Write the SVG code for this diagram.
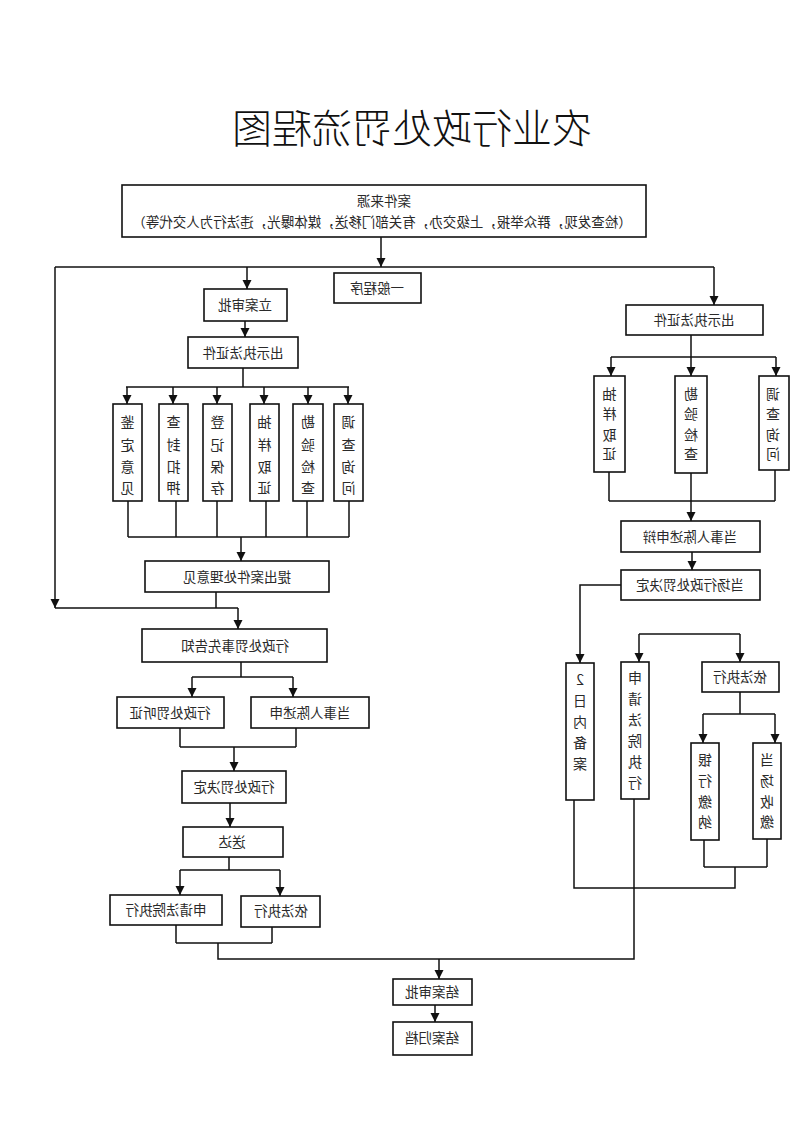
<svg xmlns="http://www.w3.org/2000/svg" width="793" height="1122" viewBox="0 0 793 1122">
<defs>
<style>
.b{fill:#fff;stroke:#111;stroke-width:1.6}
.c{fill:none;stroke:#111;stroke-width:1.5}
.a{marker-end:url(#ah)}
.t{font-family:"Noto Sans CJK SC","Noto Sans",sans-serif;font-size:13.5px;fill:#2a2a2a;text-anchor:middle}
.v{font-family:"Noto Sans CJK SC","Noto Sans",sans-serif;font-size:14px;fill:#2a2a2a;text-anchor:middle}
.h{font-family:"Noto Sans CJK SC","Noto Sans",sans-serif;font-size:40px;font-weight:300;fill:#111;text-anchor:middle}
</style>
<marker id="ah" viewBox="0 0 10 10" refX="10" refY="5" markerWidth="9" markerHeight="10" markerUnits="userSpaceOnUse" orient="auto"><path d="M0,0 L10,5 L0,10 z" fill="#111"/></marker>
</defs>
<rect width="793" height="1122" fill="#fff"/>
<text class="h" transform="scale(-1,1)" x="-412" y="143">农业行政处罚流程图</text>

<g id="connectors">
<path class="c a" d="M381,237 V267"/>
<path class="c" d="M55,267 H714"/>
<path class="c a" d="M55,267 V608"/>
<path class="c a" d="M247,267 V289"/>
<path class="c a" d="M245,321 V337"/>
<path class="c" d="M243,368 V387 M126,387 H349"/>
<path class="c a" d="M127,387 V404"/>
<path class="c a" d="M173,387 V404"/>
<path class="c a" d="M217,387 V404"/>
<path class="c a" d="M264,387 V404"/>
<path class="c a" d="M308,387 V404"/>
<path class="c a" d="M348,387 V404"/>
<path class="c" d="M128,501 V537 M176,501 V537 M217,501 V537 M266,501 V537 M307,501 V537 M349,501 V537 M128,537 H349"/>
<path class="c a" d="M241,537 V561"/>
<path class="c" d="M216,592 V608 M55,608 H238"/>
<path class="c a" d="M238,608 V629"/>
<path class="c" d="M241,662 V677 M192,677 H293"/>
<path class="c a" d="M192,677 V697"/>
<path class="c a" d="M293,677 V697"/>
<path class="c" d="M180,728 V747 M296,728 V747 M180,747 H296"/>
<path class="c a" d="M234,747 V771"/>
<path class="c a" d="M230,803 V827"/>
<path class="c" d="M229,857 V870 M180,870 H280"/>
<path class="c a" d="M180,870 V895"/>
<path class="c a" d="M280,870 V896"/>
<path class="c" d="M176,925 V943 M272,927 V943 M176,943 H272 M218,943 V959 H634 V799"/>
<path class="c a" d="M439,959 V979"/>
<path class="c a" d="M435,1005 V1022"/>
<path class="c a" d="M714,267 V305"/>
<path class="c" d="M691,335 V357 M611,357 H776"/>
<path class="c a" d="M611,357 V376"/>
<path class="c a" d="M691,357 V376"/>
<path class="c a" d="M776,357 V376"/>
<path class="c" d="M609,472 V501 M775,470 V501 M609,501 H775"/>
<path class="c a" d="M691,473 V521"/>
<path class="c a" d="M692,552 V570"/>
<path class="c a" d="M621,585 H580 V663"/>
<path class="c" d="M639,634 H740"/>
<path class="c a" d="M639,634 V662"/>
<path class="c a" d="M740,634 V662"/>
<path class="c" d="M740,692 V714 M703,714 H775"/>
<path class="c a" d="M703,714 V743"/>
<path class="c a" d="M775,714 V743"/>
<path class="c" d="M704,840 V867 M767,839 V867 M704,867 H767 M735,867 V888 H574 V800"/>
</g>

<g id="n-source"><rect class="b" x="122" y="185" width="524" height="52"/>
<text class="t" transform="scale(-1,1)" x="-384" y="206">案件来源</text>
<text class="t" transform="scale(-1,1)" x="-382" y="227">（检查发现，群众举报，上级交办，有关部门移送，媒体曝光，违法行为人交代等）</text></g>
<g id="n-general"><rect class="b" x="334" y="273" width="87" height="30"/><text class="t" transform="scale(-1,1)" x="-377" y="293">一般程序</text></g>
<g id="n-lian"><rect class="b" x="204" y="289" width="83" height="32"/><text class="t" transform="scale(-1,1)" x="-245" y="310">立案审批</text></g>
<g id="n-cert-l"><rect class="b" x="188" y="337" width="110" height="31"/><text class="t" transform="scale(-1,1)" x="-243" y="358">出示执法证件</text></g>
<g id="n-l1"><rect class="b" x="113" y="404" width="29" height="97"/><text class="v" transform="scale(-1,1)"><tspan x="-127.5" y="427">鉴</tspan><tspan x="-127.5" y="450">定</tspan><tspan x="-127.5" y="472">意</tspan><tspan x="-127.5" y="493">见</tspan></text></g>
<g id="n-l2"><rect class="b" x="159" y="404" width="29" height="97"/><text class="v" transform="scale(-1,1)"><tspan x="-173.5" y="427">查</tspan><tspan x="-173.5" y="450">封</tspan><tspan x="-173.5" y="472">扣</tspan><tspan x="-173.5" y="493">押</tspan></text></g>
<g id="n-l3"><rect class="b" x="203" y="404" width="29" height="97"/><text class="v" transform="scale(-1,1)"><tspan x="-217.5" y="427">登</tspan><tspan x="-217.5" y="450">记</tspan><tspan x="-217.5" y="472">保</tspan><tspan x="-217.5" y="493">存</tspan></text></g>
<g id="n-l4"><rect class="b" x="250" y="404" width="29" height="97"/><text class="v" transform="scale(-1,1)"><tspan x="-264.5" y="427">抽</tspan><tspan x="-264.5" y="450">样</tspan><tspan x="-264.5" y="472">取</tspan><tspan x="-264.5" y="493">证</tspan></text></g>
<g id="n-l5"><rect class="b" x="293" y="404" width="30" height="97"/><text class="v" transform="scale(-1,1)"><tspan x="-308" y="427">勘</tspan><tspan x="-308" y="450">验</tspan><tspan x="-308" y="472">检</tspan><tspan x="-308" y="493">查</tspan></text></g>
<g id="n-l6"><rect class="b" x="334" y="404" width="29" height="97"/><text class="v" transform="scale(-1,1)"><tspan x="-348.5" y="427">调</tspan><tspan x="-348.5" y="450">查</tspan><tspan x="-348.5" y="472">询</tspan><tspan x="-348.5" y="493">问</tspan></text></g>
<g id="n-opinion"><rect class="b" x="145" y="561" width="184" height="31"/><text class="t" transform="scale(-1,1)" x="-237" y="582">提出案件处理意见</text></g>
<g id="n-notice"><rect class="b" x="142" y="629" width="185" height="33"/><text class="t" transform="scale(-1,1)" x="-235" y="651">行政处罚事先告知</text></g>
<g id="n-hearing"><rect class="b" x="117" y="697" width="107" height="31"/><text class="t" transform="scale(-1,1)" x="-170" y="718">行政处罚听证</text></g>
<g id="n-plead-l"><rect class="b" x="251" y="697" width="118" height="31"/><text class="t" transform="scale(-1,1)" x="-310" y="718">当事人陈述申</text></g>
<g id="n-decision"><rect class="b" x="182" y="771" width="104" height="32"/><text class="t" transform="scale(-1,1)" x="-234" y="792">行政处罚决定</text></g>
<g id="n-deliver"><rect class="b" x="183" y="827" width="100" height="30"/><text class="t" transform="scale(-1,1)" x="-232" y="847">送达</text></g>
<g id="n-court-l"><rect class="b" x="110" y="895" width="112" height="30"/><text class="t" transform="scale(-1,1)" x="-166" y="915">申请法院执行</text></g>
<g id="n-exec-l"><rect class="b" x="241" y="896" width="79" height="31"/><text class="t" transform="scale(-1,1)" x="-281" y="916">依法执行</text></g>
<g id="n-close"><rect class="b" x="393" y="979" width="79" height="26"/><text class="t" transform="scale(-1,1)" x="-432" y="997">结案审批</text></g>
<g id="n-archive"><rect class="b" x="393" y="1022" width="79" height="33"/><text class="t" transform="scale(-1,1)" x="-432" y="1043">结案归档</text></g>

<g id="n-cert-r"><rect class="b" x="626" y="305" width="137" height="30"/><text class="t" transform="scale(-1,1)" x="-694" y="325">出示执法证件</text></g>
<g id="n-r1"><rect class="b" x="594" y="376" width="31" height="96"/><text class="v" transform="scale(-1,1)"><tspan x="-609.5" y="399">抽</tspan><tspan x="-609.5" y="419">样</tspan><tspan x="-609.5" y="440">取</tspan><tspan x="-609.5" y="459">证</tspan></text></g>
<g id="n-r2"><rect class="b" x="675" y="376" width="32" height="97"/><text class="v" transform="scale(-1,1)"><tspan x="-691" y="399">勘</tspan><tspan x="-691" y="419">验</tspan><tspan x="-691" y="440">检</tspan><tspan x="-691" y="459">查</tspan></text></g>
<g id="n-r3"><rect class="b" x="759" y="376" width="30" height="94"/><text class="v" transform="scale(-1,1)"><tspan x="-773" y="399">调</tspan><tspan x="-773" y="419">查</tspan><tspan x="-773" y="440">询</tspan><tspan x="-773" y="459">问</tspan></text></g>
<g id="n-plead-r"><rect class="b" x="621" y="521" width="139" height="31"/><text class="t" transform="scale(-1,1)" x="-690" y="542">当事人陈述申辩</text></g>
<g id="n-onsite"><rect class="b" x="621" y="570" width="139" height="30"/><text class="t" transform="scale(-1,1)" x="-690" y="590">当场行政处罚决定</text></g>
<g id="n-record"><rect class="b" x="566" y="663" width="28" height="137"/><text class="v" transform="scale(-1,1)"><tspan x="-580" y="685">2</tspan><tspan x="-580" y="706">日</tspan><tspan x="-580" y="727">内</tspan><tspan x="-580" y="748">备</tspan><tspan x="-580" y="769">案</tspan></text></g>
<g id="n-court-r"><rect class="b" x="621" y="662" width="28" height="137"/><text class="v" transform="scale(-1,1)"><tspan x="-635" y="683">申</tspan><tspan x="-635" y="704">请</tspan><tspan x="-635" y="725">法</tspan><tspan x="-635" y="746">院</tspan><tspan x="-635" y="767">执</tspan><tspan x="-635" y="788">行</tspan></text></g>
<g id="n-exec-r"><rect class="b" x="702" y="662" width="77" height="30"/><text class="t" transform="scale(-1,1)" x="-740" y="682">依法执行</text></g>
<g id="n-bank"><rect class="b" x="691" y="743" width="28" height="97"/><text class="v" transform="scale(-1,1)"><tspan x="-705" y="765">银</tspan><tspan x="-705" y="786">行</tspan><tspan x="-705" y="807">缴</tspan><tspan x="-705" y="827">纳</tspan></text></g>
<g id="n-spot"><rect class="b" x="753" y="743" width="28" height="96"/><text class="v" transform="scale(-1,1)"><tspan x="-767" y="765">当</tspan><tspan x="-767" y="786">场</tspan><tspan x="-767" y="807">收</tspan><tspan x="-767" y="827">缴</tspan></text></g>
</svg>
